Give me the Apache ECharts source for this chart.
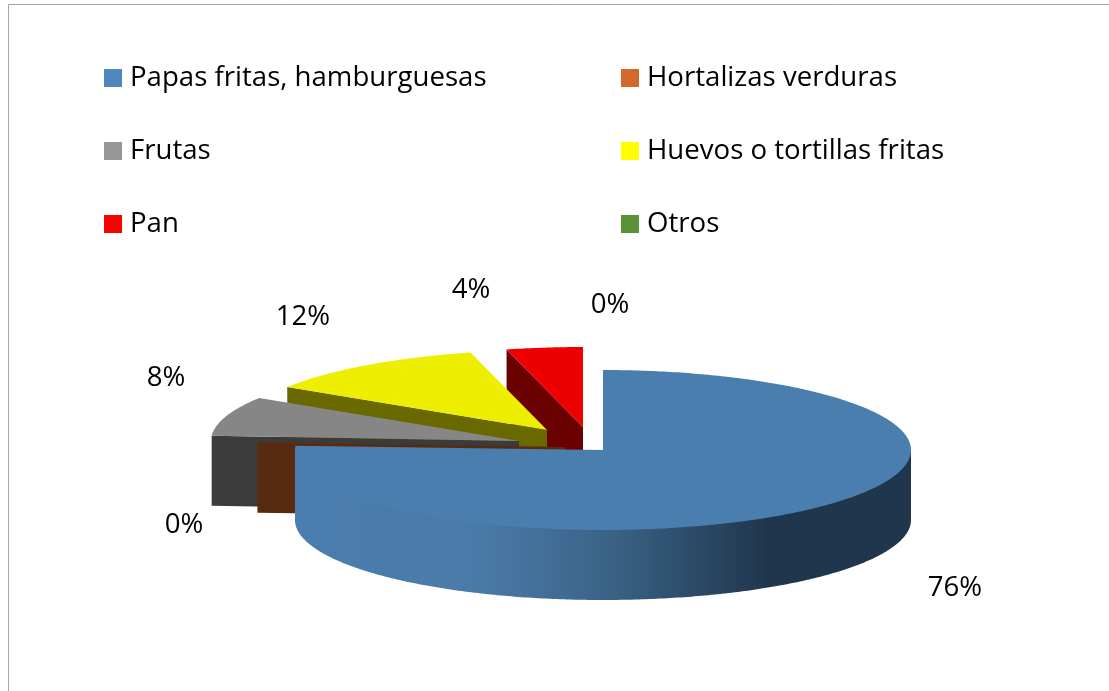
<!DOCTYPE html>
<html><head><meta charset="utf-8">
<style>html,body{margin:0;padding:0;background:#fff}#c{width:1109px;height:691px}</style>
<script src="https://cdn.jsdelivr.net/npm/echarts@6/dist/echarts.min.js"></script>
</head><body><div id="c"></div>
<script>
var categories = ['Papas fritas, hamburguesas','Hortalizas verduras','Frutas','Huevos o tortillas fritas','Pan','Otros'];
var values = [76, 0.2, 8, 12, 4, 0];
var leftLegend = ['Papas fritas, hamburguesas','Frutas','Pan'];
var rightLegend = ['Hortalizas verduras','Huevos o tortillas fritas','Otros'];

// styling
var legendColors = ['#4f86bd','#d2692b','#969696','#ffff00','#ff0000','#5a9237'];
var topColors = ['#4a7eae','#5f3015','#868686','#eeee00','#ee0000','#4f7f30'];
var wallColors = [null,'#572b10','#3b3b3b','#696900','#6b0000','#2d4a1b'];
var explode = [[0,0],[-38,-3],[-84,-9],[-56,-20],[-20,-23],[0,0]];
var labelPos = [[955,587],[184,524],[166,377],[303,316],[471,289],[610,304]];
var zOrder = [6,5,4,3,2,1];
var FONT = '"Open Sans"';
var FS = 27.6;
var CX = 603, CY = 450, RX = 308, RY = 80, DEPTH = 70;

var total = values.reduce(function(a,b){return a+b;},0);
function rad(d){return d*Math.PI/180;}
function pt(cx,cy,deg,dy){return [cx+RX*Math.sin(rad(deg)), cy-RY*Math.cos(rad(deg))+(dy||0)];}
function arc(cx,cy,a,b,dy){var n=Math.max(2,Math.ceil(Math.abs(b-a)*1.5)),r=[];for(var i=0;i<=n;i++){r.push(pt(cx,cy,a+(b-a)*i/n,dy));}return r;}

function makeRender(i){
  return function(params, api){
    var start=0; for(var k=0;k<i;k++){start+=values[k];}
    var a=start/total*360, b=(start+api.value(0))/total*360;
    var cx=CX+explode[i][0], cy=CY+explode[i][1];
    var kids=[];
    if(b>a){
      if(i===0){
        var w=[pt(cx,cy,90)].concat(arc(cx,cy,90,270,DEPTH)).concat([pt(cx,cy,270)]);
        kids.push({type:'polygon',shape:{points:w},style:{fill:new echarts.graphic.LinearGradient(0,0,1,0,[
          {offset:0,color:'#4a7eae'},{offset:0.3,color:'#4a7aa8'},{offset:0.5,color:'#3b6488'},{offset:0.77,color:'#20364d'},{offset:1,color:'#20364d'}])}});
      } else {
        var s=pt(cx,cy,a);
        kids.push({type:'polygon',shape:{points:[[cx,cy],s,[s[0],s[1]+DEPTH],[cx,cy+DEPTH]]},style:{fill:wallColors[i]}});
      }
      kids.push({type:'polygon',shape:{points:[[cx,cy]].concat(arc(cx,cy,a,b,0))},style:{fill:topColors[i]}});
    }
    kids.push({type:'text',style:{text:Math.round(api.value(0)/total*100)+'%',x:labelPos[i][0],y:labelPos[i][1]+1,
      align:'center',verticalAlign:'middle',fill:'#000',font:FS+'px '+FONT}});
    return {type:'group',children:kids};
  };
}

var series = categories.map(function(name,i){
  return {type:'custom',name:name,coordinateSystem:'none',z:zOrder[i],silent:true,
    itemStyle:{color:legendColors[i]},renderItem:makeRender(i),data:[[values[i]]],animation:false};
});
function legend(x,names){
  return {left:x,top:64,orient:'vertical',padding:0,itemWidth:18,itemHeight:18,itemGap:45,selectedMode:false,
    icon:'rect',data:names,textStyle:{fontFamily:'Open Sans',fontSize:FS,color:'#000',padding:[0,0,0,3]}};
}
var chart = echarts.init(document.getElementById('c'),null,{renderer:'canvas'});
chart.setOption({
  animation:false,backgroundColor:'#fff',
  legend:[legend(104,leftLegend),legend(621,rightLegend)],
  graphic:[{type:'rect',shape:{x:8.5,y:4.5,width:1200,height:800},style:{fill:'none',stroke:'#a6a6a6',lineWidth:1},z:0,silent:true}],
  series:series
});
</script></body></html>
